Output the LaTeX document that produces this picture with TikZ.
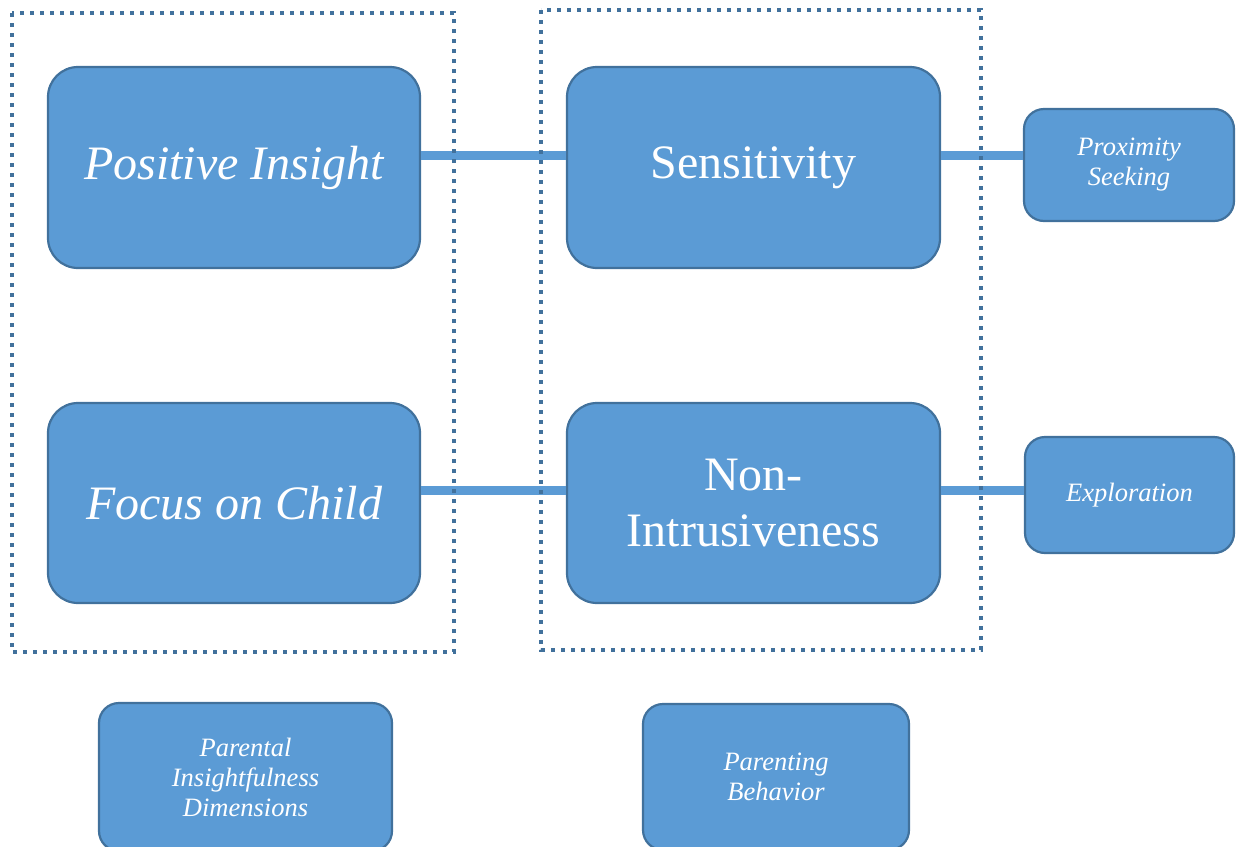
\documentclass[tikz,border=0pt]{standalone}
\usepackage{fontspec}
\setmainfont{Liberation Serif}
\definecolor{boxfill}{HTML}{5B9BD5}
\definecolor{boxline}{HTML}{41719C}
\definecolor{dotline}{HTML}{41719C}
\begin{document}
\begin{tikzpicture}[x=1pt,y=-1pt,
  bigbox/.style={draw=boxline,line width=2.2pt,fill=boxfill,rounded corners=30pt,text=white,align=center,inner sep=0pt,font=\fontsize{48}{56}\selectfont},
  smallbox/.style={draw=boxline,line width=2.2pt,fill=boxfill,rounded corners=20pt,text=white,align=center,inner sep=0pt,font=\fontsize{26.5}{30}\selectfont\itshape},
  conn/.style={draw=boxfill,line width=9pt},
  dotbox/.style={draw=dotline,line width=4pt,dash pattern=on 4pt off 6pt}]
\useasboundingbox (0,0) rectangle (1236,846);
\node[bigbox,minimum width=372pt,minimum height=201pt] (PI) at (234,167.5) {\itshape Positive Insight};
\node[bigbox,minimum width=373pt,minimum height=201pt] (S) at (753.5,167.5) {Sensitivity};
\node[bigbox,minimum width=372pt,minimum height=200pt] (FC) at (234,503) {\itshape Focus on Child};
\node[bigbox,minimum width=373pt,minimum height=200pt] (NI) at (753.5,503) {Non-\\Intrusiveness};
\node[smallbox,minimum width=210pt,minimum height=112pt] (PS) at (1129,165) {Proximity\\Seeking};
\node[smallbox,minimum width=209pt,minimum height=116pt] (EX) at (1129.5,495) {Exploration};
\node[smallbox,minimum width=293pt,minimum height=148pt] (PID) at (245.5,777) {Parental\\Insightfulness\\Dimensions};
\node[smallbox,minimum width=266pt,minimum height=146pt] (PB) at (776,777) {Parenting\\Behavior};
\draw[conn] ([yshift=12.5pt]PI.east) -- ([yshift=12.5pt]S.west);
\draw[conn] ([yshift=12.5pt]S.east) -- ([yshift=12.5pt]S.east -| PS.west);
\draw[conn] ([yshift=13pt]FC.east) -- ([yshift=13pt]NI.west);
\draw[conn] ([yshift=13pt]NI.east) -- ([yshift=13pt]NI.east -| EX.west);
\draw[dotbox] (12,13) rectangle (454,652);
\draw[dotbox] (541,10) rectangle (981,650);
\end{tikzpicture}
\end{document}
